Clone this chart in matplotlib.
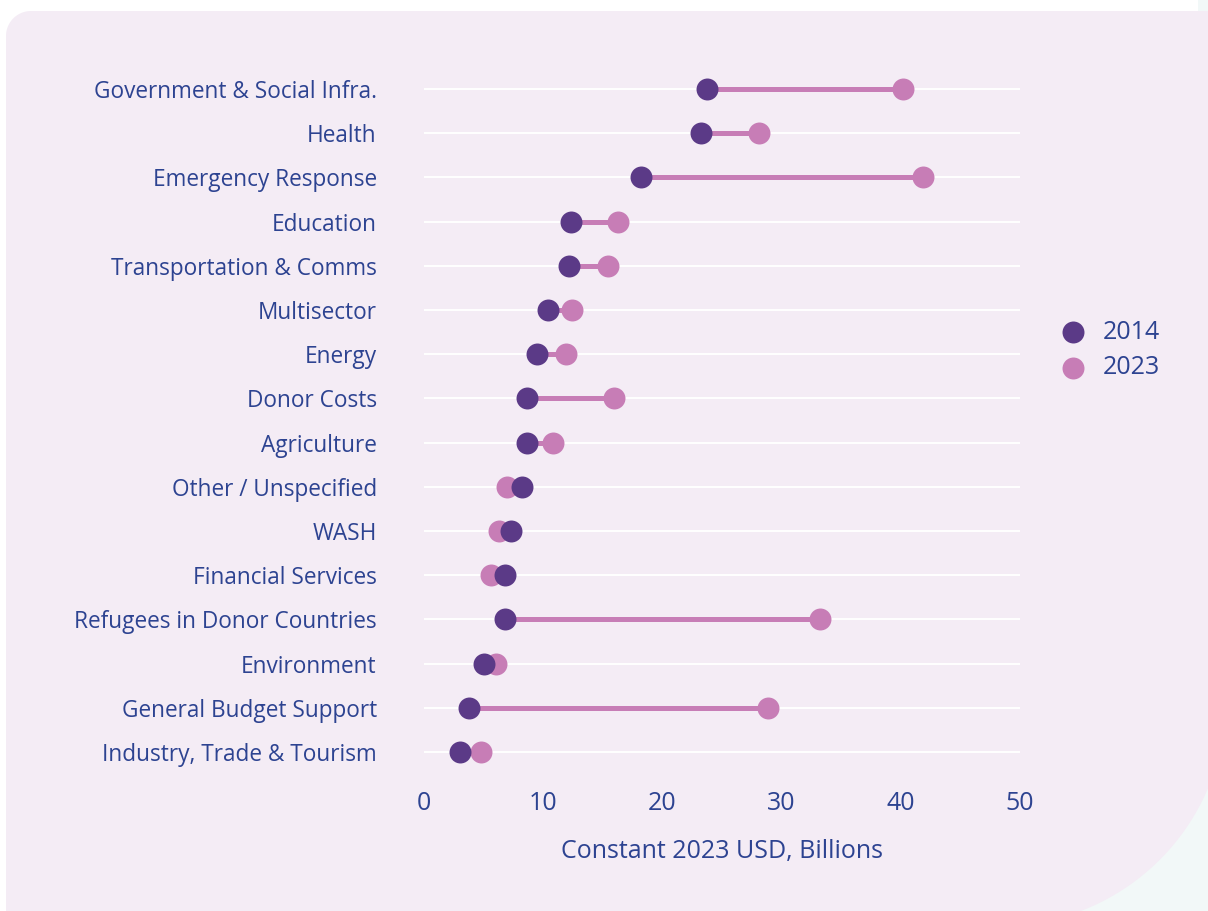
import numpy as np
import matplotlib.pyplot as plt
from matplotlib.patches import Polygon, Rectangle

# Data (Constant 2023 USD, Billions)
sectors = ['Government & Social Infra.', 'Health', 'Emergency Response', 'Education',
           'Transportation & Comms', 'Multisector', 'Energy', 'Donor Costs', 'Agriculture',
           'Other / Unspecified', 'WASH', 'Financial Services', 'Refugees in Donor Countries',
           'Environment', 'General Budget Support', 'Industry, Trade & Tourism']
values_2014 = [23.7, 23.2, 18.2, 12.3, 12.2, 10.4, 9.5, 8.6, 8.6, 8.2, 7.3, 6.8, 6.8, 5.0, 3.8, 3.0]
values_2023 = [40.2, 28.1, 41.9, 16.3, 15.4, 12.4, 11.9, 15.9, 10.8, 7.0, 6.3, 5.6, 33.2, 6.0, 28.9, 4.8]
years = ['2014', '2023']

dark = '#5b3a87'
pink = '#c77db6'
text_col = '#2d4391'
panel = '#f4ecf5'
mint = '#f2f8f8'

plt.rcParams['font.family'] = ['Open Sans', 'DejaVu Sans']

W, H = 1208, 911
fig = plt.figure(figsize=(W / 100, H / 100), dpi=100, facecolor='white')

# background card, drawn in pixel coordinates (y down)
bg = fig.add_axes([0, 0, 1, 1], zorder=-1)
bg.set_xlim(0, W)
bg.set_ylim(H, 0)
bg.axis('off')
bg.add_patch(Rectangle((1000, 700), 208, 211, facecolor=mint, edgecolor='none'))
bg.add_patch(Rectangle((1198, 0), 10, 14, facecolor=mint, edgecolor='none'))
t1 = np.linspace(np.pi, 1.5 * np.pi, 20)
corner_tl = np.column_stack([31 + 25 * np.cos(t1), 36 + 25 * np.sin(t1)])
a0 = np.arctan2(88.4, 208)
a1 = np.arctan2(211, 81)
t2 = np.linspace(a0, a1, 40)
corner_br = np.column_stack([1000 + 226 * np.cos(t2), 700 + 226 * np.sin(t2)])
outline = np.vstack([corner_tl, [[1208, 11]], corner_br, [[6, 911]]])
bg.add_patch(Polygon(outline, closed=True, facecolor=panel, edgecolor='none'))

ax = fig.add_axes([424 / W, 1 - 774 / H, (1020 - 424) / W, (774 - 67) / H])
ax.set_facecolor('none')

y = np.arange(len(sectors))
for yi in y:
    ax.axhline(yi, color='white', linewidth=1.4, zorder=1)
for yi, a, b in zip(y, values_2014, values_2023):
    ax.plot([a, b], [yi, yi], color=pink, linewidth=3.6, zorder=2, solid_capstyle='butt')
ax.scatter(values_2023, y, s=250, color=pink, zorder=3, label=years[1], linewidths=0)
ax.scatter(values_2014, y, s=250, color=dark, zorder=4, label=years[0], linewidths=0)

ax.set_xlim(0, 50)
ax.set_ylim(len(sectors) - 0.5, -0.5)
ax.set_yticks(y)
ax.set_yticklabels(sectors)
ax.set_xticks([0, 10, 20, 30, 40, 50])
for s in ax.spines.values():
    s.set_visible(False)
ax.tick_params(length=0, colors=text_col)
ax.tick_params(axis='y', pad=34, labelsize=16.3)
ax.tick_params(axis='x', pad=12, labelsize=18)
ax.set_xlabel('Constant 2023 USD, Billions', fontsize=18, color=text_col, labelpad=17)

handles, labels = ax.get_legend_handles_labels()
leg = fig.legend(handles[::-1], labels[::-1], loc='center left',
                 bbox_to_anchor=(1025 / W, 1 - 350 / H),
                 frameon=False, fontsize=18, handletextpad=0.2, labelspacing=0.42,
                 markerscale=1.0)
for t in leg.get_texts():
    t.set_color(text_col)

fig.savefig('out.png', dpi=100, facecolor='white')
